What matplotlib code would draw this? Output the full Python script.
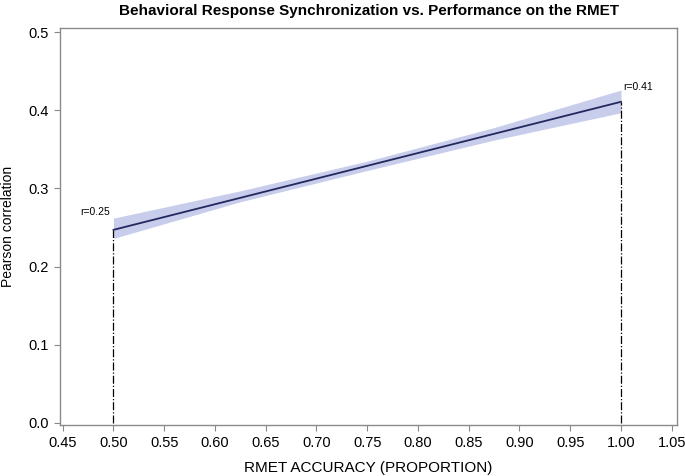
import matplotlib
matplotlib.use("Agg")
import matplotlib.pyplot as plt
import numpy as np

plt.rcParams['font.family'] = ['Liberation Sans', 'DejaVu Sans']

# Data
line_x = [0.50, 1.00]
line_y = [0.247, 0.411]
band_x = [0.50, 0.625, 0.75, 0.875, 1.00]
band_lo = [0.236, 0.283, 0.323, 0.362, 0.397]
band_hi = [0.262, 0.297, 0.335, 0.378, 0.426]
labels = ["r=0.25", "r=0.41"]
xticks = [0.45, 0.50, 0.55, 0.60, 0.65, 0.70, 0.75, 0.80, 0.85, 0.90, 0.95, 1.00, 1.05]
yticks = [0.0, 0.1, 0.2, 0.3, 0.4, 0.5]

fig = plt.figure(figsize=(6.85, 4.76), dpi=100)
ax = fig.add_axes([0.0876, 0.1071, 0.9012, 0.8347])

ax.fill_between(band_x, band_lo, band_hi, color='#c8cdec', linewidth=0, zorder=1)
ax.plot(line_x, line_y, color='#23285e', linewidth=1.3, zorder=3)

for xv, yv in zip(line_x, line_y):
    ax.plot([xv, xv], [0, yv], color='black', linestyle='-.', linewidth=0.9, zorder=2)

ax.text(line_x[0] - 0.003, band_hi[0] + 0.002, labels[0], ha='right', va='bottom', fontsize=7.5)
ax.text(line_x[1] + 0.002, band_hi[-1] - 0.002, labels[1], ha='left', va='bottom', fontsize=7.5)

ax.set_xlim(0.4473, 1.0555)
ax.set_ylim(-0.003, 0.5059)
ax.set_xticks(xticks)
ax.set_xticklabels([f"{v:.2f}" for v in xticks])
ax.set_yticks(yticks)
ax.set_yticklabels([f"{v:.1f}" for v in yticks])
ax.tick_params(axis='both', direction='out', length=4, width=0.8, color='#888888', labelsize=10.5, pad=4)

for s in ax.spines.values():
    s.set_color('#8a8a8a')
    s.set_linewidth(1.0)

ax.set_xlabel("RMET ACCURACY (PROPORTION)", fontsize=11, labelpad=8)
ax.set_ylabel("Pearson correlation", fontsize=10, labelpad=10)
ax.set_title("Behavioral Response Synchronization vs. Performance on the RMET",
             fontsize=11, fontweight='bold', pad=9)

fig.savefig("out.png", dpi=100)
